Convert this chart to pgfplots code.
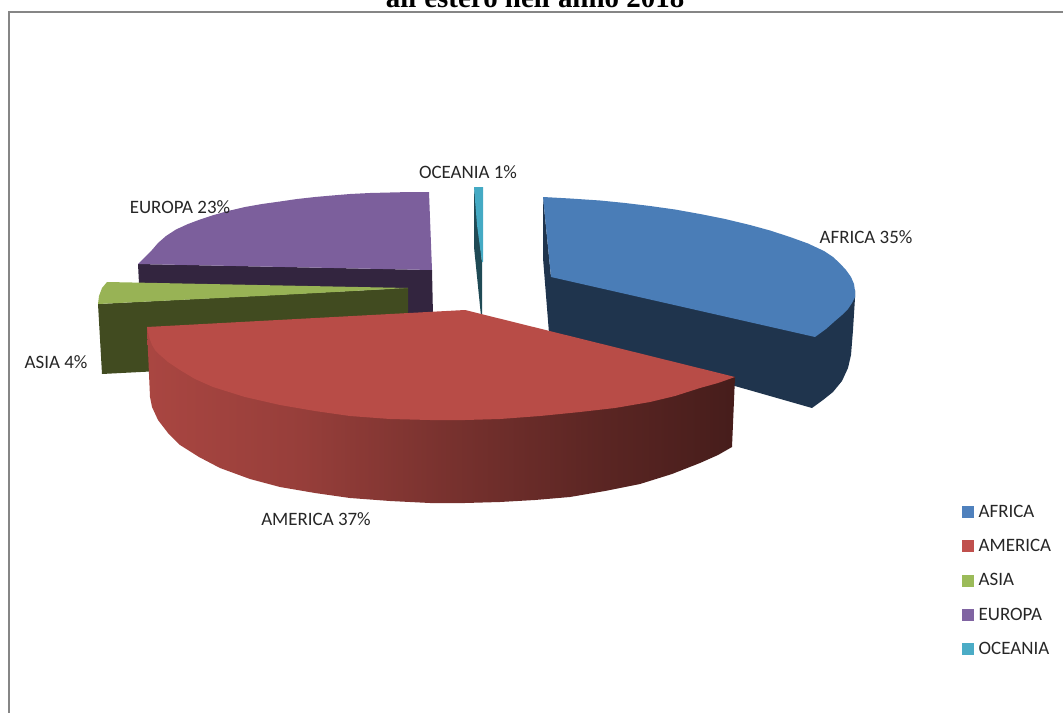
\documentclass[border=0pt]{standalone}
\usepackage{pgfplots}
\pgfplotsset{compat=1.18}
\usepackage{fontspec}
\setmainfont{Carlito}
\newfontfamily\titlefont{Liberation Serif}
\definecolor{blueT}{HTML}{4A7DB7}
\definecolor{blueD}{HTML}{1F344D}
\definecolor{redT}{HTML}{B84C47}
\definecolor{greenT}{HTML}{98B355}
\definecolor{greenD}{HTML}{414B20}
\definecolor{purpleT}{HTML}{7C5F9C}
\definecolor{purpleD}{HTML}{33253F}
\definecolor{tealT}{HTML}{44AAC4}
\definecolor{tealD}{HTML}{1F4A55}
\definecolor{lblue}{HTML}{4F81BD}
\definecolor{lred}{HTML}{C0504D}
\definecolor{lgreen}{HTML}{9BBB59}
\definecolor{lpurple}{HTML}{8064A2}
\definecolor{lteal}{HTML}{4BACC6}
\definecolor{frameC}{HTML}{868686}
\definecolor{txt}{HTML}{262626}
\pgfdeclarehorizontalshading{redside}{100bp}{
 color(0bp)=(redT!92!black); color(25bp)=(redT!92!black);
 color(38bp)=(redT!82!black); color(50bp)=(redT!66!black);
 color(63bp)=(redT!50!black); color(75bp)=(redT!38!black); color(100bp)=(redT!38!black)}
\begin{document}
\begin{tikzpicture}
\useasboundingbox (0,0) rectangle (797.25pt,534.75pt);
\begin{axis}[
  at={(0,0)},anchor=south west,
  scale only axis,width=797.25pt,height=534.75pt,
  xmin=0,xmax=1063,ymin=0,ymax=713,y dir=reverse,
  axis lines=none,clip=false,
  legend style={at={(axis cs:962,505)},anchor=north west,draw=none,fill=none,
    row sep=15pt,inner sep=0pt,outer sep=0pt,
    font=\fontsize{14.2}{16}\selectfont\color{txt},
    nodes={inner sep=0pt,anchor=west},
    /tikz/column 1/.style={column sep=3.5pt}},
  legend cell align=left,
  legend image code/.code={\path[#1,draw=none] (0pt,-4.5pt) rectangle (9pt,4.5pt);},
  every axis plot/.append style={forget plot},
]
\addplot[draw=frameC,line width=1.1pt,no markers] coordinates {(9,713)(9,12)(1063,12)};
% EUROPA
\addplot[fill=purpleD,draw=none] coordinates {(138,264)(139,284)(408,290)(408,316)(433,316)(432,270)};
\addplot[fill=purpleT,draw=none] coordinates {(429,192)(410,192)(390,192.5)(370,193)(350,194)(332,195.5)(315,197)(297,199)(280,201.5)(262,204)(245,207)(228,211)(212,215.5)(200,219.5)(188,224)(176,229.5)(166,236)(158,243)(152,250)(138,264)(432,270)};
% ASIA
\addplot[fill=greenD,draw=none] coordinates {(98,304)(102,374)(160,371)(160,330)(408,316)(408,288)};
\addplot[fill=greenT,draw=none] coordinates {(107,282)(408,288)(280,295)(98,304)(99,296)(102,288)};
% OCEANIA
\addplot[fill=tealD,draw=none] coordinates {(474,187)(474,247)(481,316)(482,316)(482,262)};
\addplot[fill=tealT,draw=none] coordinates {(474,187)(483,187)(483,262)(482,262)(477,225)};
% AFRICA
\addplot[fill=blueD,draw=none] coordinates {(543,197)(543,258)(549,333)(812,408)(823,400)(833,392)(842,381)(848,368)(851,355)(853,330)(855,298)(855,290)(551,277)};
\addplot[fill=blueT,draw=none] coordinates {(543,197)(570,198.5)(600,200.5)(625,203)(650,206)(675,209.5)(700,214)(725,219)(750,225)(770,230.5)(790,237)(808,243.5)(824,251)(833,257)(840,263.5)(846,270)(851,277)(854,284)(855,291)(855,297)(852,303)(848,309)(842,315)(835,321)(826,329)(815,337)(551,277)};
% AMERICA
\addplot[shading=redside,draw=none] coordinates {(147,328)(150,397)(152,407)(158,420)(168,433)(180,445)(199,457)(220,468)(250,479)(280,487)(315,493)(350,498)(390,501)(430,503)(465,503)(500,502)(535,500)(570,497)(605,491)(640,484)(672,474)(700,463)(718,455)(732,447)(735,377)};
\addplot[fill=redT,draw=none] coordinates {(147,327)(465,310)(735,377)(718,383)(700,388)(675,396)(650,402)(615,408)(580,412)(540,416)(500,419)(465,420)(430,420)(390,419)(350,416)(315,411)(280,405)(245,397)(213,387)(195,379)(180,370)(168,362)(160,355)(155,350)(152,345)(149,337)};
% labels
\node[anchor=center,text=txt,font=\fontsize{14.2}{16}\selectfont] at (axis cs:468,172) {OCEANIA 1\%};
\node[anchor=center,text=txt,font=\fontsize{14.2}{16}\selectfont] at (axis cs:180,207) {EUROPA 23\%};
\node[anchor=center,text=txt,font=\fontsize{14.2}{16}\selectfont] at (axis cs:866,237) {AFRICA 35\%};
\node[anchor=center,text=txt,font=\fontsize{14.2}{16}\selectfont] at (axis cs:56,362) {ASIA 4\%};
\node[anchor=center,text=txt,font=\fontsize{14.2}{16}\selectfont] at (axis cs:316,519) {AMERICA 37\%};
% title
\node[anchor=base,font=\titlefont\bfseries\fontsize{21.7}{24}\selectfont] at (axis cs:535,7.5) {all'estero nell'anno 2018};
% legend
\addlegendimage{fill=lblue}\addlegendentry{AFRICA}
\addlegendimage{fill=lred}\addlegendentry{AMERICA}
\addlegendimage{fill=lgreen}\addlegendentry{ASIA}
\addlegendimage{fill=lpurple}\addlegendentry{EUROPA}
\addlegendimage{fill=lteal}\addlegendentry{OCEANIA}
\end{axis}
\end{tikzpicture}
\end{document}
